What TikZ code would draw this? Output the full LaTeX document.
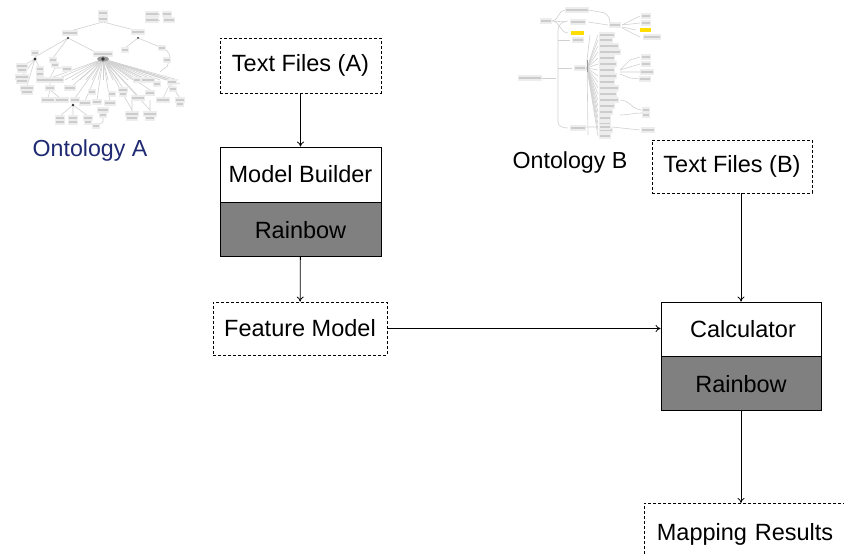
\documentclass[tikz,border=0pt]{standalone}
\usepackage{fontspec}
\setmainfont{Liberation Sans}
\usetikzlibrary{arrows.meta}
\definecolor{rbgray}{HTML}{808080}
\definecolor{ontblue}{HTML}{1F2A72}
\tikzset{
  boxtxt/.style={font=\fontsize{23.5}{28}\selectfont, inner sep=0pt},
  dashbox/.style={boxtxt, draw, dash pattern=on 3pt off 2pt, line width=0.8pt},
  solidbox/.style={boxtxt, draw, line width=0.8pt, fill=white},
  rbbox/.style={boxtxt, draw, line width=0.8pt, fill=rbgray},
  arr/.style={-{To[length=5pt,width=7pt]}, line width=0.8pt},
  tline/.style={draw=black!18, line width=0.6pt},
  tblob/.style={fill=black!20},
  thalo/.style={fill=black!7},
  tdark/.style={fill=black!80},
  ontlab/.style={font=\fontsize{23.2}{28}\selectfont, inner sep=0pt}
}
\newcommand\tbl[3]{\fill[thalo] ({#1-#3/2-1},{#2-2.6}) rectangle ({#1+#3/2+1},{#2+2.6});\fill[tblob] ({#1-#3/2},{#2-1.4}) rectangle ({#1+#3/2},{#2+1.4});}
\begin{document}
\begin{tikzpicture}[x=1pt,y=-1pt]
\useasboundingbox (0,0) rectangle (844,556);
\clip (0,0) rectangle (844,556);
\fill[white] (0,0) rectangle (844,556);

% ---------- Ontology A thumbnail ----------
\begin{scope}
\draw[tline] (103,22) -- (70,31) (103,22) -- (138,31);
\draw[tline] (68,38) -- (35,57) (68,38) -- (53,58) (68,38) -- (103,56);
\draw[tline] (138,38) -- (125,48) (138,38) -- (160,47) to[out=-20,in=90] (170,58) -- (168,64) to[out=-90,in=60] (160,72);
\draw[tline] (35,59) -- (22,66) (35,59) -- (22,76) (35,59) -- (27,86) (35,59) -- (40,68);
\draw[tline] (53,62) -- (55,66) (55,68) -- (50,78) (55,68) -- (67,68);
\draw[tline] (50,82) -- (50,86) (50,90) -- (48,98) (50,90) -- (60,98);
\foreach \ex/\ey in {45,55,65,72,80,86,92,98,103,108,113,118,123,128,133,138,143,148,154,160,166,172,178}
  {\draw[tline] (103,59) -- (\ex,{80+0.0*\ex});}
\foreach \ex/\ey in {70/88,75/98,85/101,97/100,110/101,123/88,138/96,150/90,160/86,172/80,180/84,132/110,150/110}
  {\draw[tline] (103,59) -- (\ex,\ey);}
\draw[tline] (73,105) -- (60,116) (73,105) -- (73,116) (73,105) -- (88,116);
\draw[tline] (103,108) -- (103,122) -- (96,126) (132,100) -- (132,112) (150,100) -- (150,112);
\draw[tline] (170,84) -- (163,98) (170,84) -- (180,98);
\draw[tline] (145,14) -- (160,14) (145,20) -- (160,20);
\tbl{103}{13}{8}\tbl{103}{19}{8}
\tbl{152}{14}{12}\tbl{167}{14}{8}\tbl{152}{20}{12}\tbl{169}{20}{10}
\tbl{70}{33}{14}\tbl{138}{32}{12}\tbl{125}{50}{6}\tbl{162}{48}{6}\tbl{167}{60}{6}
\tbl{35}{53}{6}\tbl{53}{60}{6}\tbl{55}{65}{6}\tbl{67}{69}{8}
\tbl{22}{66}{10}\tbl{22}{70}{8}\tbl{22}{77}{12}\tbl{22}{81}{10}\tbl{27}{88}{12}\tbl{27}{92}{10}\tbl{40}{69}{6}\tbl{40}{74}{6}
\tbl{50}{80}{26}\tbl{50}{88}{8}\tbl{48}{100}{12}\tbl{62}{100}{12}
\tbl{70}{88}{10}\tbl{75}{100}{8}\tbl{85}{103}{10}
\tbl{60}{118}{8}\tbl{60}{122}{8}\tbl{73}{118}{8}\tbl{73}{122}{8}\tbl{88}{118}{8}\tbl{88}{122}{6}
\tbl{103}{54}{18}\tbl{97}{102}{8}\tbl{110}{103}{10}\tbl{123}{90}{8}\tbl{123}{94}{6}
\tbl{137}{80}{6}\tbl{148}{80}{12}\tbl{157}{84}{6}\tbl{172}{82}{8}\tbl{173}{89}{6}
\tbl{138}{98}{12}\tbl{150}{93}{8}\tbl{132}{114}{12}\tbl{150}{114}{12}\tbl{132}{118}{10}\tbl{150}{118}{8}
\tbl{103}{110}{10}\tbl{103}{115}{6}\tbl{96}{126}{6}\tbl{163}{100}{12}\tbl{180}{100}{8}\tbl{180}{104}{6}
\tbl{112}{94}{6}\tbl{92}{92}{6}
\fill[tdark] (103,59) circle (2.4);
\fill[black!40] (103,59) ellipse (6 and 2.5);
\fill[tdark] (103,59) circle (1.8);
\fill[tdark] (35,59) circle (1.6);
\fill[tdark] (68,38) circle (1.1);
\fill[tdark] (138,38) circle (1);
\fill[tdark] (73,105) circle (1.3);
\end{scope}

% ---------- Ontology B thumbnail ----------
\begin{scope}
\draw[tline] (540,78) -- (556,78);
\draw[tline] (558,122) -- (558,30) to[out=90,in=180] (568,21);
\draw[tline] (558,122) to[out=-90,in=180] (568,128);
\draw[tline] (540,21) -- (552,21) to[out=0,in=180] (565,10);
\draw[tline] (552,21) -- (566,22) (552,21) to[out=0,in=180] (568,33);
\draw[tline] (558,40) -- (570,40) (558,68) -- (572,68);
\draw[tline] (588,10) -- (600,12) to[out=0,in=90] (610,22) -- (612,25);
\draw[tline] (588,22) -- (608,25);
\draw[tline] (622,25) -- (640,16) (622,25) -- (640,23) (622,27) -- (636,30) (622,28) -- (640,37);
\draw[tline] (590,35) -- (587,60) -- (588,135);
\foreach \yy in {35,40,46,52,58,64,70,76,82,88,94,100,106,112,118,124,130,136}
  {\draw[tline] (587,68) -- (598,\yy);}
\draw[tline] (620,70) -- (630,60) -- (640,57) (620,70) -- (640,64) (620,72) -- (640,72) (620,74) -- (630,78) -- (640,79);
\draw[tline] (620,100) to[out=0,in=180] (642,110) (620,115) to[out=0,in=180] (642,113);
\draw[tline] (584,127) -- (598,127) (612,127) -- (640,130);
\draw[tline, line width=0.8pt, draw=black!40] (587,60) -- (587,72);
\tbl{530}{78}{22}\tbl{546}{21}{10}\tbl{577}{10}{22}\tbl{578}{22}{14}
\fill[yellow!80!orange] (571,31) rectangle (584,35);
\tbl{578}{40}{10}\tbl{580}{68}{10}\tbl{578}{128}{14}
\tbl{615}{25}{10}
\tbl{646}{16}{8}\tbl{646}{23}{8}\tbl{652}{37}{16}
\fill[yellow!80!orange] (640,28) rectangle (651,32);
\foreach \yy/\ww in {35/14,40/12,46/18,52/20,58/14,64/16,70/14,76/16,82/14,88/18,94/16,100/18,106/14,112/12,118/10,124/10,130/12,136/10}
  {\tbl{598+\ww/2+2}{\yy}{\ww}}
\tbl{646}{57}{8}\tbl{646}{64}{8}\tbl{647}{72}{12}\tbl{645}{79}{10}
\tbl{646}{110}{6}\tbl{646}{115}{6}\tbl{648}{130}{12}\tbl{605}{127}{10}
\end{scope}

% ---------- labels ----------
\node[ontlab, text=ontblue] (onta) at (90,151) {Ontology A};
\node[ontlab] (ontb) at (570,163) {Ontology B};

% ---------- boxes ----------
\node[dashbox, minimum width=161pt, minimum height=55pt] (tfa) at (300.5,65.5) {Text Files (A)};
\node[solidbox, minimum width=161pt, minimum height=55pt] (mb) at (300.5,174.5) {Model Builder};
\node[rbbox, minimum width=161pt, minimum height=54pt, anchor=north] (mbr) at (mb.south) {Rainbow};
\node[dashbox, minimum width=174pt, minimum height=53pt] (fm) at (300,328.5) {Feature Model};
\node[dashbox, minimum width=160pt, minimum height=53pt] (tfb) at (732,166.5) {Text Files (B)};
\node[solidbox, minimum width=160pt, minimum height=54pt] (calc) at (741,329) {\hspace{4pt}Calculator};
\node[rbbox, minimum width=160pt, minimum height=54pt, anchor=north] (calcr) at (calc.south) {Rainbow};
\node[dashbox, minimum width=240pt, minimum height=62pt, anchor=north west, text width=215pt, align=left, inner xsep=11pt] (mr) at (644,503) {Mapping Results};

% ---------- connectors ----------
\draw[arr] (tfa) -- (mb);
\draw[arr] (mbr) -- (fm);
\draw[arr] (fm) -- (fm -| calc.west);
\draw[arr] (tfb.south -| calc.north) -- (calc.north);
\draw[arr] (calcr.south) -- (calcr.south |- mr.north);
\end{tikzpicture}
\end{document}
